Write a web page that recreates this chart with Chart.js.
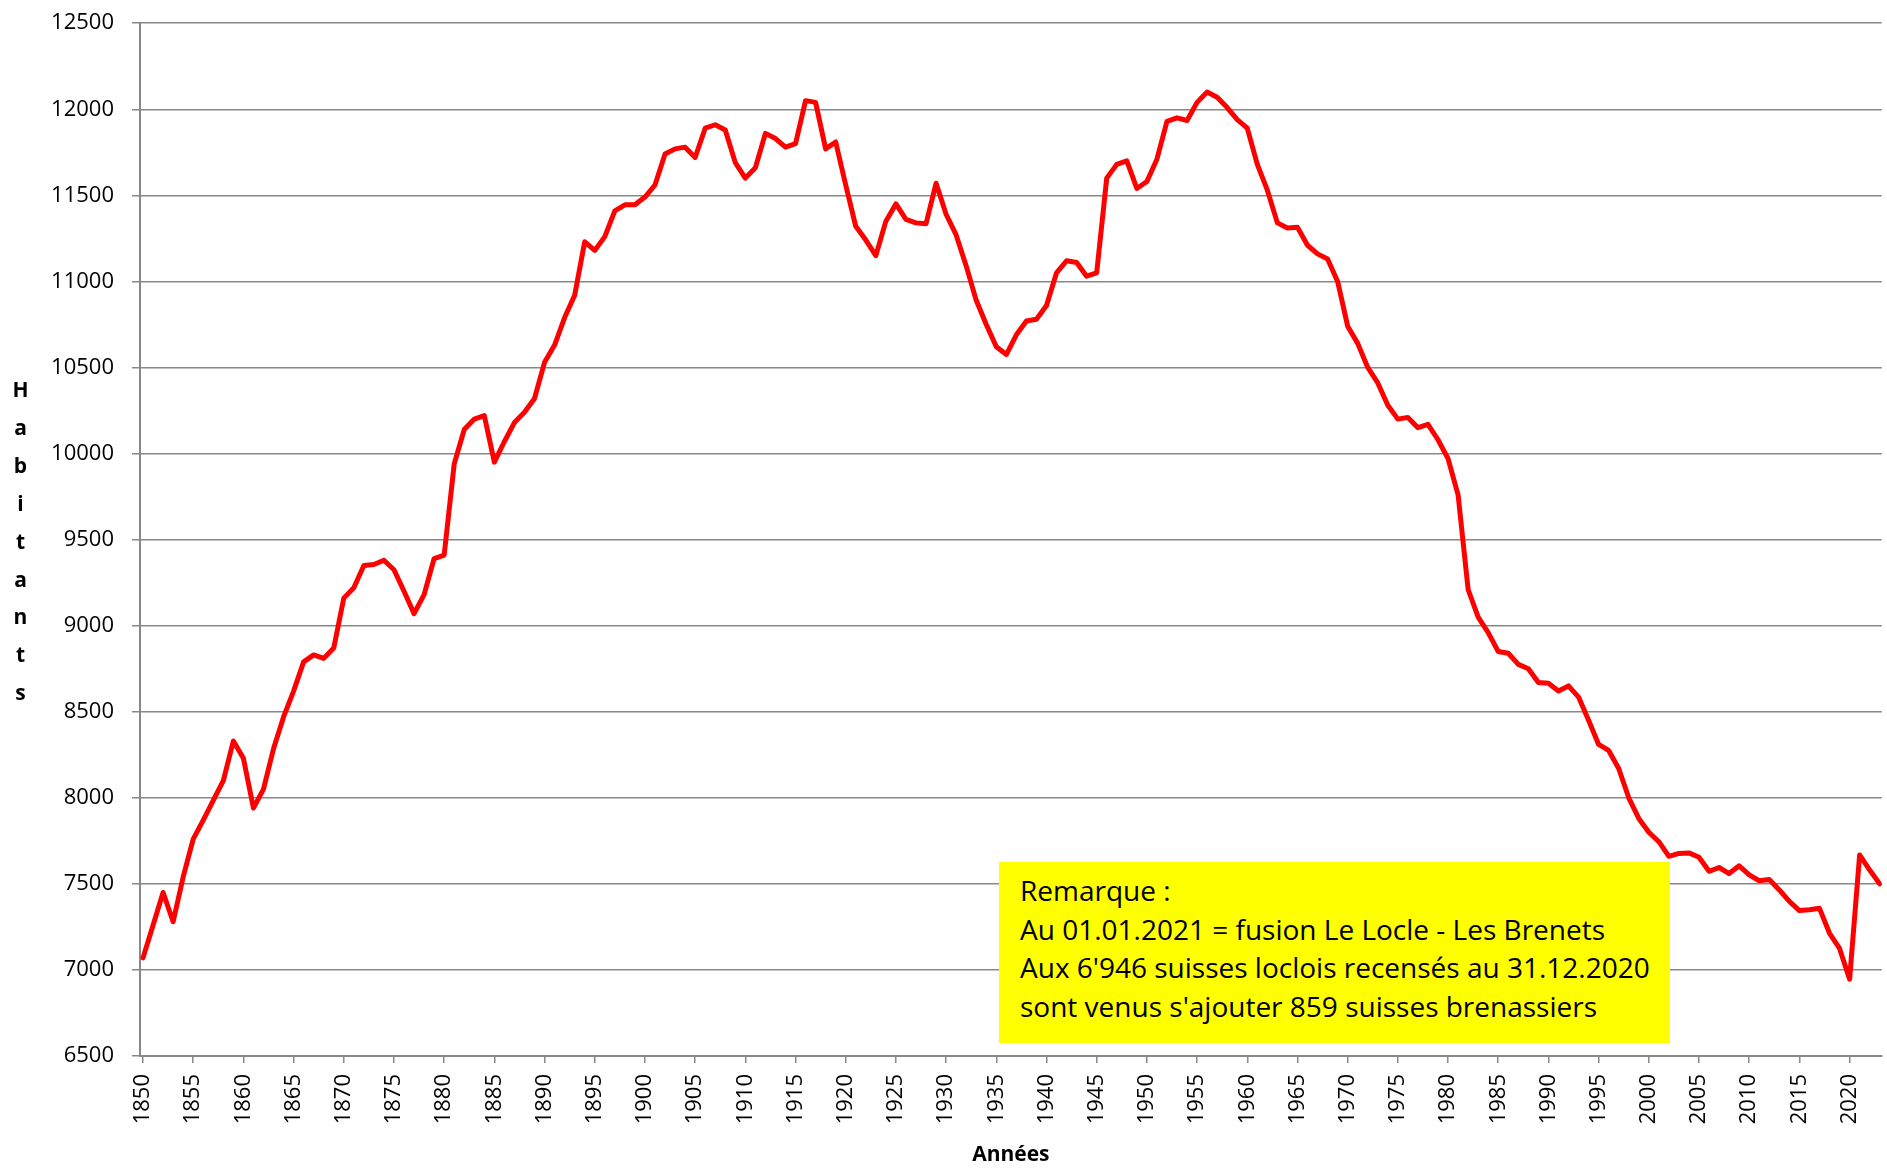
<!DOCTYPE html>
<html>
<head>
<meta charset="utf-8">
<script src="https://cdn.jsdelivr.net/npm/chart.js@4.4.1/dist/chart.umd.min.js"></script>
<style>
  html, body { margin: 0; padding: 0; background: #fff; overflow: hidden; }
  #wrap { position: relative; width: 1887px; height: 1168px; overflow: hidden; }
  #chart { position: absolute; left: 0; top: -8px; }
  #ytitle {
    position: absolute; left: 0; top: 371px; width: 41px;
    font-family: "Open Sans", sans-serif; font-weight: bold; font-size: 21px;
    line-height: 37.9px; text-align: center; color: #000;
  }
  #note {
    position: absolute; left: 999px; top: 862px; width: 671px; height: 181px;
    background: #ffff00; box-sizing: border-box; padding: 9px 0 0 21px;
    font-family: "Open Sans", sans-serif; font-size: 28px; line-height: 38.5px;
    color: #000; white-space: nowrap;
  }
</style>
</head>
<body>
<div id="wrap">
  <canvas id="chart" width="1887" height="1176"></canvas>
  <div id="ytitle"></div>
  <div id="note"></div>
</div>
<script>
const years = [
  1850,1851,1852,1853,1854,1855,1856,1857,1858,1859,
  1860,1861,1862,1863,1864,1865,1866,1867,1868,1869,
  1870,1871,1872,1873,1874,1875,1876,1877,1878,1879,
  1880,1881,1882,1883,1884,1885,1886,1887,1888,1889,
  1890,1891,1892,1893,1894,1895,1896,1897,1898,1899,
  1900,1901,1902,1903,1904,1905,1906,1907,1908,1909,
  1910,1911,1912,1913,1914,1915,1916,1917,1918,1919,
  1920,1921,1922,1923,1924,1925,1926,1927,1928,1929,
  1930,1931,1932,1933,1934,1935,1936,1937,1938,1939,
  1940,1941,1942,1943,1944,1945,1946,1947,1948,1949,
  1950,1951,1952,1953,1954,1955,1956,1957,1958,1959,
  1960,1961,1962,1963,1964,1965,1966,1967,1968,1969,
  1970,1971,1972,1973,1974,1975,1976,1977,1978,1979,
  1980,1981,1982,1983,1984,1985,1986,1987,1988,1989,
  1990,1991,1992,1993,1994,1995,1996,1997,1998,1999,
  2000,2001,2002,2003,2004,2005,2006,2007,2008,2009,
  2010,2011,2012,2013,2014,2015,2016,2017,2018,2019,
  2020,2021,2022,2023
];
const habitants = [
  7070,7260,7450,7280,7540,7760,7870,7985,8100,8330,
  8230,7940,8050,8285,8470,8620,8790,8830,8810,8870,
  9160,9220,9350,9355,9380,9325,9200,9070,9180,9390,
  9410,9940,10140,10200,10220,9950,10070,10180,10240,10320,
  10530,10630,10790,10920,11230,11180,11260,11410,11445,11445,
  11490,11560,11740,11770,11780,11720,11890,11910,11880,11690,
  11600,11660,11860,11830,11780,11800,12050,12040,11770,11810,
  11560,11320,11240,11150,11350,11450,11360,11340,11335,11570,
  11390,11270,11090,10890,10750,10620,10575,10690,10770,10780,
  10860,11050,11120,11110,11030,11050,11600,11680,11700,11540,
  11580,11710,11930,11950,11935,12040,12100,12070,12010,11940,
  11890,11680,11530,11340,11310,11315,11210,11160,11130,11000,
  10740,10640,10500,10410,10280,10200,10210,10150,10170,10080,
  9970,9760,9210,9050,8960,8850,8840,8775,8750,8670,
  8665,8620,8650,8585,8450,8310,8275,8170,8000,7880,
  7800,7745,7660,7677,7680,7655,7573,7595,7560,7605,
  7552,7518,7525,7465,7398,7345,7350,7358,7213,7125,
  6946,7668,7580,7500
];
const xTickLabels = [1850,1855,1860,1865,1870,1875,1880,1885,1890,1895,1900,1905,1910,1915,1920,1925,1930,1935,1940,1945,1950,1955,1960,1965,1970,1975,1980,1985,1990,1995,2000,2005,2010,2015,2020];
const yTickLabels = [6500,7000,7500,8000,8500,9000,9500,10000,10500,11000,11500,12000,12500];
const xTitle = "Années";
const yTitle = "Habitants";
const noteLines = [
  "Remarque :",
  "Au 01.01.2021 = fusion Le Locle - Les Brenets",
  "Aux 6'946 suisses loclois recensés au 31.12.2020",
  "sont venus s'ajouter 859 suisses brenassiers"
];

document.getElementById('ytitle').innerHTML = yTitle.split('').map(c => '<div>' + c + '</div>').join('');
document.getElementById('note').innerHTML = noteLines.map(l => '<div>' + l + '</div>').join('');

const gridColor = '#888888';
const tickFont = { family: '"Open Sans", sans-serif', size: 22 };

new Chart(document.getElementById('chart'), {
  type: 'line',
  data: {
    datasets: [{
      data: years.map((y, i) => ({ x: y, y: habitants[i] })),
      borderColor: '#ff0000',
      borderWidth: 5,
      pointRadius: 0,
      tension: 0,
      borderJoinStyle: 'round',
      borderCapStyle: 'round',
      fill: false
    }]
  },
  options: {
    responsive: false,
    animation: false,
    layout: { padding: { top: 0, right: 0, left: 0, bottom: 0 } },
    plugins: { legend: { display: false }, tooltip: { enabled: false } },
    scales: {
      x: {
        type: 'linear',
        min: 1849.7,
        max: 2023.2,
        afterBuildTicks: s => { s.ticks = xTickLabels.map(v => ({ value: v })); },
        afterFit: s => { s.height = 112; },
        ticks: {
          autoSkip: false, maxRotation: 90, minRotation: 90,
          font: tickFont, color: '#000', padding: 11,
          callback: v => String(v)
        },
        grid: { drawOnChartArea: false, drawTicks: true, tickLength: 7, color: gridColor, lineWidth: 1.5 },
        border: { display: true, color: gridColor, width: 2 },
        title: {
          display: true, text: xTitle, color: '#000',
          font: { family: '"Open Sans", sans-serif', size: 21, weight: 'bold' },
          padding: { top: 0, bottom: 0 }
        }
      },
      y: {
        min: 6500, max: 12500,
        afterBuildTicks: s => { s.ticks = yTickLabels.map(v => ({ value: v })); },
        afterFit: s => { s.width = 140; },
        ticks: { font: tickFont, color: '#000', padding: 18, callback: v => String(v) },
        grid: { color: gridColor, lineWidth: 1.5, drawTicks: true, tickLength: 8 },
        border: { display: true, color: gridColor, width: 2 }
      }
    }
  }
});
</script>
</body>
</html>
